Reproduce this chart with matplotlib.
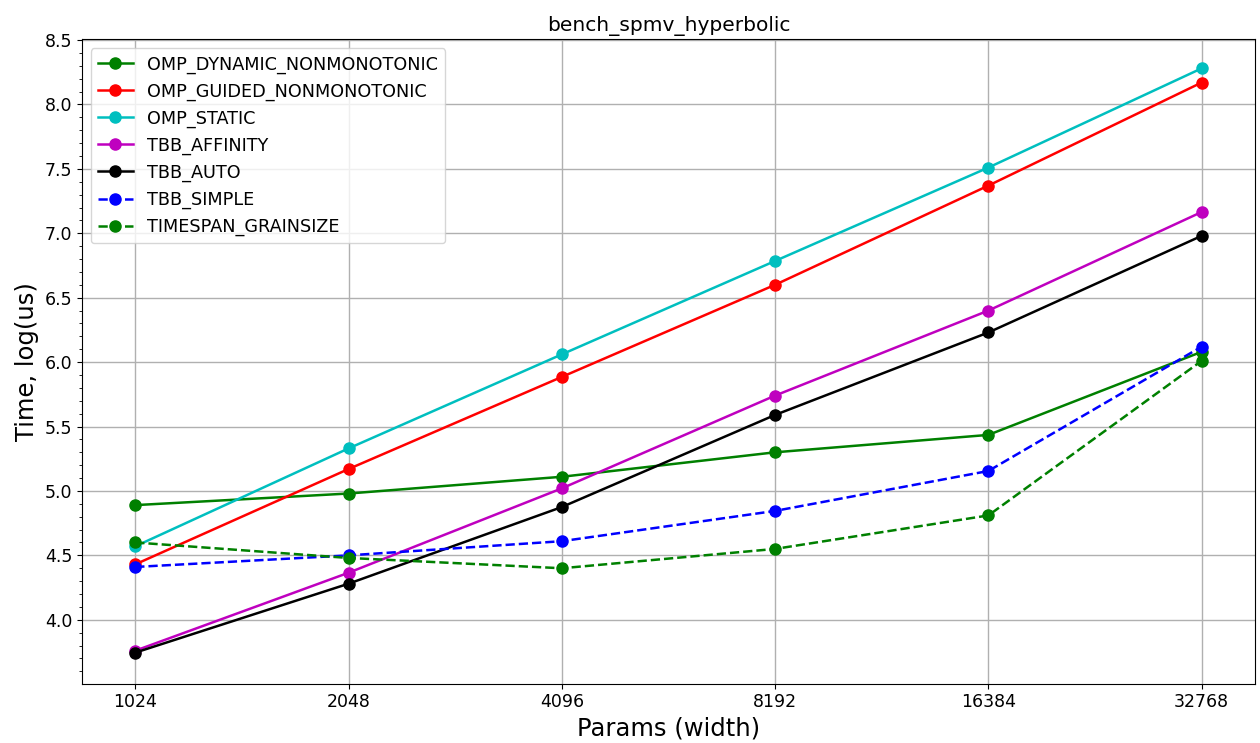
import matplotlib
matplotlib.use('Agg')
import matplotlib.pyplot as plt
from matplotlib.ticker import AutoMinorLocator, MultipleLocator, FormatStrFormatter

params = [1024, 2048, 4096, 8192, 16384, 32768]

omp_dynamic = [4.89, 4.98, 5.11, 5.30, 5.435, 6.08]
omp_guided = [4.43, 5.17, 5.885, 6.60, 7.37, 8.17]
omp_static = [4.57, 5.33, 6.06, 6.785, 7.51, 8.28]
tbb_affinity = [3.76, 4.365, 5.02, 5.74, 6.40, 7.165]
tbb_auto = [3.745, 4.28, 4.875, 5.59, 6.23, 6.98]
tbb_simple = [4.41, 4.50, 4.61, 4.845, 5.155, 6.12]
timespan_grainsize = [4.60, 4.48, 4.40, 4.55, 4.81, 6.01]

series = [
    ('OMP_DYNAMIC_NONMONOTONIC', omp_dynamic, 'g', '-'),
    ('OMP_GUIDED_NONMONOTONIC', omp_guided, 'r', '-'),
    ('OMP_STATIC', omp_static, 'c', '-'),
    ('TBB_AFFINITY', tbb_affinity, 'm', '-'),
    ('TBB_AUTO', tbb_auto, 'k', '-'),
    ('TBB_SIMPLE', tbb_simple, 'b', '--'),
    ('TIMESPAN_GRAINSIZE', timespan_grainsize, 'g', '--'),
]

fig, ax = plt.subplots(figsize=(12.6, 7.43), dpi=100)
fig.subplots_adjust(left=0.065, right=0.996, bottom=0.080, top=0.947)

x = list(range(len(params)))
for name, vals, color, ls in series:
    ax.plot(x, vals, color=color, linestyle=ls, marker='o', markersize=8,
            lw=1.8, label=name)

ax.set_xticks(x)
ax.set_xticklabels([str(p) for p in params])
ax.set_ylim(3.505, 8.505)
ax.yaxis.set_major_locator(MultipleLocator(0.5))
ax.yaxis.set_major_formatter(FormatStrFormatter('%.1f'))
ax.yaxis.set_minor_locator(AutoMinorLocator(5))
ax.tick_params(axis='both', labelsize=12.5)
ax.grid(True, which='major', color='#b0b0b0', lw=1)

ax.set_xlabel('Params (width)', fontsize=17.5)
ax.set_ylabel('Time, log(us)', fontsize=17.5)
ax.set_title('bench_spmv_hyperbolic', fontsize=14.5)
ax.legend(loc='upper left', fontsize=12.7)

plt.savefig('out.png')
